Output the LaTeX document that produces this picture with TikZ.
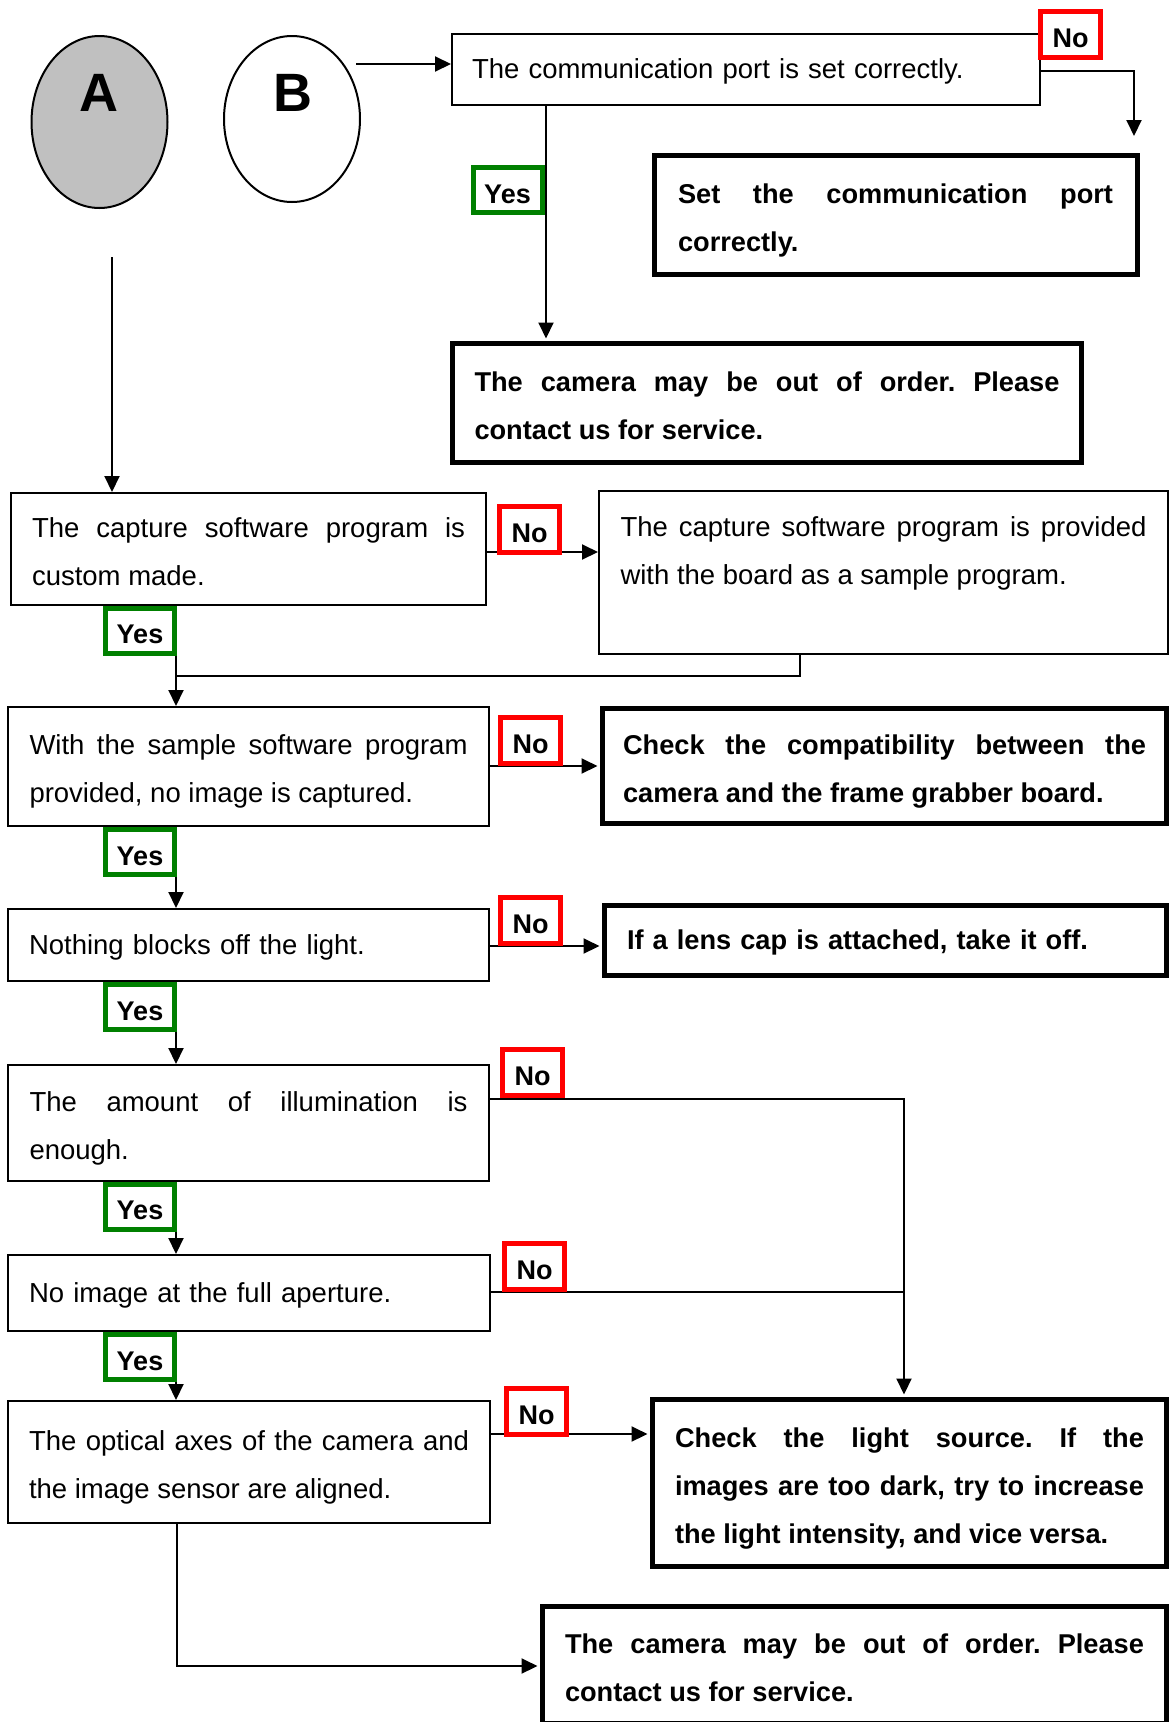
\documentclass[tikz,border=0pt]{standalone}
\usepackage{fontspec}
\setmainfont{Liberation Sans}
\usetikzlibrary{arrows.meta,shapes.geometric}
\tolerance=10000
\hbadness=10000
\hyphenpenalty=10000
\exhyphenpenalty=10000
\frenchspacing
\definecolor{yesgreen}{RGB}{0,128,0}
\definecolor{nored}{RGB}{255,0,0}
\definecolor{agray}{RGB}{192,192,192}
\tikzset{
  base/.style={draw, rectangle, inner sep=0pt,
    execute at begin node={\rule{0pt}{24pt}},
    execute at end node={\rule[-6pt]{0pt}{6pt}}},
  thinbox/.style={base, line width=2pt, font=\fontsize{27.5}{48}\selectfont},
  thickbox/.style={base, line width=5pt, font=\fontsize{27.2}{48}\bfseries\selectfont},
  just/.style={align=justify, execute at begin node={\rule{0pt}{30pt}}},
  flush/.style={align=left},
  lab/.style={line width=5pt, fill=white, inner sep=0pt, text height=26pt, text depth=0pt,
    font=\fontsize{27}{32}\bfseries\selectfont},
  yeslab/.style={lab, draw=yesgreen, minimum width=69pt, minimum height=45pt},
  nolab/.style={lab, draw=nored, minimum width=60pt, minimum height=46pt},
  oval/.style={ellipse, draw, line width=2pt, inner sep=0pt},
  letter/.style={inner sep=0pt, font=\fontsize{54}{60}\bfseries\selectfont},
  conn/.style={line width=2pt},
  arr/.style={conn, -{Triangle[length=16pt,width=15pt]}},
}
\begin{document}
\begin{tikzpicture}[x=1pt,y=-1pt]
\useasboundingbox (0,0) rectangle (1170,1722);
\clip (0,0) rectangle (1170,1722);

% entry points
\node[oval, fill=agray, minimum width=136pt, minimum height=172pt] (A) at (99.5,122) {};
\node[letter] (Alab) at (99,92.5) {A};
\node[oval, fill=white, minimum width=136pt, minimum height=166pt] (B) at (292,119) {};
\node[letter] (Blab) at (293,93) {B};

% branch B
\node[thinbox, flush, text width=548pt, minimum width=588pt, minimum height=71pt] (comm) at (746,69.5)
  {The communication port is set correctly.};
\node[thickbox, just, text width=435pt, minimum width=483pt, minimum height=119pt] (setport) at (895.5,215)
  {Set the communication port\linebreak correctly.};
\node[thickbox, just, text width=585pt, minimum width=629pt, minimum height=119pt] (cam1) at (767,403)
  {The camera may be out of order. Please\linebreak contact us for service.};

% branch A
\node[thinbox, just, text width=433pt, minimum width=475pt, minimum height=112pt] (capture) at (248.5,549)
  {The capture software program is\linebreak custom made.};
\node[thinbox, just, text width=526pt, minimum width=569pt, minimum height=163pt] (provided) at (883.5,572.5)
  {The capture software program is provided\linebreak with the board as a sample program.\\\mbox{}};
\node[thinbox, just, text width=438pt, minimum width=481pt, minimum height=119pt] (sample) at (248.5,766.5)
  {With the sample software program\linebreak provided, no image is captured.};
\node[thickbox, just, text width=523pt, minimum width=564pt, minimum height=115pt] (compat) at (884.5,766)
  {Check the compatibility between the\linebreak camera and the frame grabber board.};
\node[thinbox, flush, text width=439pt, minimum width=481pt, minimum height=72pt] (nothing) at (248.5,945)
  {Nothing blocks off the light.};
\node[thickbox, flush, text width=517pt, minimum width=562pt, minimum height=70pt] (lens) at (885.5,940.5)
  {If a lens cap is attached, take it off.};
\node[thinbox, just, text width=438pt, minimum width=481pt, minimum height=116pt] (illum) at (248.5,1123)
  {The amount of illumination is\linebreak enough.};
\node[thinbox, flush, text width=440pt, minimum width=482pt, minimum height=76pt] (noimage) at (249,1293)
  {No image at the full aperture.};
\node[thinbox, just, text width=440pt, minimum width=482pt, minimum height=122pt] (optical) at (249,1462)
  {The optical axes of the camera and\linebreak the image sensor are aligned.};
\node[thickbox, just, text width=469pt, minimum width=514pt, minimum height=167pt] (light) at (909.5,1483)
  {Check the light source. If the\linebreak images are too dark, try to increase\linebreak the light intensity, and vice versa.};
\node[thickbox, just, text width=579pt, minimum width=624pt, minimum height=117pt] (cam2) at (854.5,1665)
  {The camera may be out of order. Please\linebreak contact us for service.};

% routing points
\coordinate (Atop) at (112,257);
\coordinate (Bout) at (356,64);
\coordinate (portR) at (1134,71);
\coordinate (portEnd) at (1134,136);
\coordinate (yesX) at (546,0);
\coordinate (mainX) at (176,0);
\coordinate (n1) at (0,552);
\coordinate (pX) at (800,676);
\coordinate (n2) at (0,766);
\coordinate (n3) at (0,946);
\coordinate (lx) at (904,1099);
\coordinate (n5) at (904,1292);
\coordinate (n6) at (0,1434);
\coordinate (oX) at (177,1666);

% connectors
\draw[arr] (Atop) -- (Atop |- capture.north);
\draw[arr] (Bout) -- (Bout -| comm.west);
\draw[arr] (comm.east |- portR) -- (portR) -- (portEnd);
\draw[arr, shorten >=2.5pt] (comm.south -| yesX) -- (cam1.north -| yesX);
\draw[arr] (capture.east |- n1) -- (provided.west |- n1);
\draw[arr] (capture.south -| mainX) -- (sample.north -| mainX);
\draw[conn] (provided.south -| pX) -- (pX) -- (pX -| mainX);
\draw[arr, shorten >=2.5pt] (sample.east |- n2) -- (compat.west |- n2);
\draw[arr] (sample.south -| mainX) -- (nothing.north -| mainX);
\draw[arr, shorten >=2.5pt] (nothing.east |- n3) -- (lens.west |- n3);
\draw[arr] (nothing.south -| mainX) -- (illum.north -| mainX);
\draw[arr, shorten >=2.5pt] (illum.east |- lx) -- (lx) -- (light.north -| lx);
\draw[arr] (illum.south -| mainX) -- (noimage.north -| mainX);
\draw[conn] (noimage.east |- n5) -- (n5);
\draw[arr] (noimage.south -| mainX) -- (optical.north -| mainX);
\draw[arr, shorten >=2.5pt] (optical.east |- n6) -- (light.west |- n6);
\draw[arr, shorten >=2.5pt] (optical.south -| oX) -- (oX) -- (cam2.west |- oX);

% answer labels
\node[nolab] (no0) at (1070.5,34.5) {No};
\node[yeslab] (yes0) at (507.5,190) {Yes};
\node[nolab] (no1) at (529.5,529) {No};
\node[yeslab] (yes1) at (140,630.5) {Yes};
\node[nolab] (no2) at (530.5,740.5) {No};
\node[yeslab] (yes2) at (140,852) {Yes};
\node[nolab] (no3) at (530.5,920) {No};
\node[yeslab] (yes3) at (140,1007) {Yes};
\node[nolab] (no4) at (532.5,1072.5) {No};
\node[yeslab] (yes4) at (140,1206.5) {Yes};
\node[nolab] (no5) at (534.5,1266.5) {No};
\node[yeslab] (yes5) at (140,1357) {Yes};
\node[nolab] (no6) at (536.5,1411.5) {No};
\end{tikzpicture}
\end{document}
